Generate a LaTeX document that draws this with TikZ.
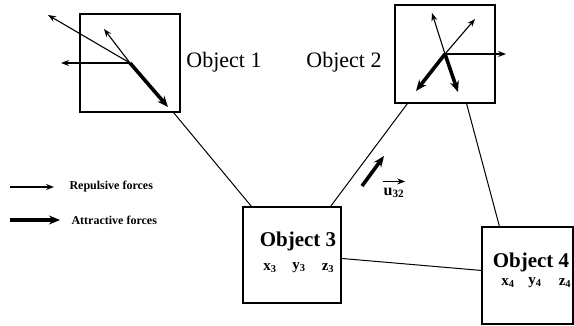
\documentclass[tikz,border=0pt]{standalone}
\usepackage{fontspec}
\setmainfont{Liberation Serif}
\usetikzlibrary{arrows.meta,calc}

\begin{document}
\begin{tikzpicture}[x=1pt,y=-1pt,
  obj/.style={draw,line width=1.1pt,inner sep=0pt},
  lab/.style={font=\fontsize{22}{24}\selectfont},
  blab/.style={font=\fontsize{21}{23}\selectfont\bfseries},
  coord/.style={font=\fontsize{15}{17}\selectfont\bfseries},
  leg/.style={font=\fontsize{12}{14}\selectfont\bfseries,anchor=west},
  link/.style={line width=1pt},
  rep/.style={-{Stealth[length=8pt,width=6pt]},line width=1.1pt},
  att/.style={-{Stealth[length=11pt,width=9pt]},line width=3.6pt}]
  \useasboundingbox (0,0) rectangle (574,325);
  \node[obj,minimum width=100pt,minimum height=98pt] (ob1) at (130,63) {};
  \node[obj,minimum width=100pt,minimum height=98pt] (ob2) at (445,54) {};
  \node[obj,minimum width=98pt,minimum height=96pt] (ob3) at (292,255) {};
  \node[obj,minimum width=91pt,minimum height=97pt] (ob4) at (527.5,275.5) {};
  \node[lab] (l1) at (224,62) {Object 1};
  \node[lab] (l2) at (344,62) {Object 2};
  \node[blab] (l3) at (298,241) {Object 3};
  \node[coord] (x3) at (270,268) {x\textsubscript{3}};
  \node[coord] (y3) at (299,268) {y\textsubscript{3}};
  \node[coord] (z3) at (328,268) {z\textsubscript{3}};
  \node[blab] (l4) at (531,262) {Object 4};
  \node[coord] (x4) at (508,283) {x\textsubscript{4}};
  \node[coord] (y4) at (535,283) {y\textsubscript{4}};
  \node[coord] (z4) at (565,283) {z\textsubscript{4}};
  % links between objects
  \draw[link] ($(ob1.south east)+(-7,0)$) -- ($(ob3.north west)+(9,0)$);
  \draw[link] ($(ob3.north east)+(-11,0)$) -- ($(ob2.south west)+(13,0)$);
  \draw[link] ($(ob2.south east)+(-29,0)$) -- ($(ob4.north west)+(18,0)$);
  \draw[link] ($(ob3.north east)+(0,52)$) -- ($(ob4.north west)+(0,44)$);
  % forces on object 1
  \draw[rep] (ob1.center) -- ++(-82,-48);
  \draw[rep] (ob1.center) -- ++(-26,-34);
  \draw[rep] (ob1.center) -- ++(-69,0);
  \draw[att] (ob1.center) -- ++(38,44);
  % forces on object 2
  \draw[rep] (ob2.center) -- ++(-13,-41);
  \draw[rep] (ob2.center) -- ++(30,-35);
  \draw[rep] (ob2.center) -- ++(61,0);
  \draw[att] (ob2.center) -- ++(-29,37);
  \draw[att] (ob2.center) -- ++(13,38);
  % unit vector
  \coordinate (u0) at (362,186);
  \draw[att] (u0) -- (384,156);
  \node[coord,font=\fontsize{16}{18}\selectfont\bfseries] (u32) at (394,193) {u\textsubscript{32}};
  \draw[rep,line width=1.3pt] ($(u32.north west)+(3,-3)$) -- ++(22,0);
  % legend
  \coordinate (r0) at (10,187);
  \coordinate (a0) at (10,220);
  \draw[rep] (r0) -- ++(44,0);
  \draw[att] (a0) -- ++(50,0);
  \node[leg] (rl) at (66,187) {Repulsive forces};
  \node[leg] (al) at (68,220) {Attractive forces};
\end{tikzpicture}
\end{document}
